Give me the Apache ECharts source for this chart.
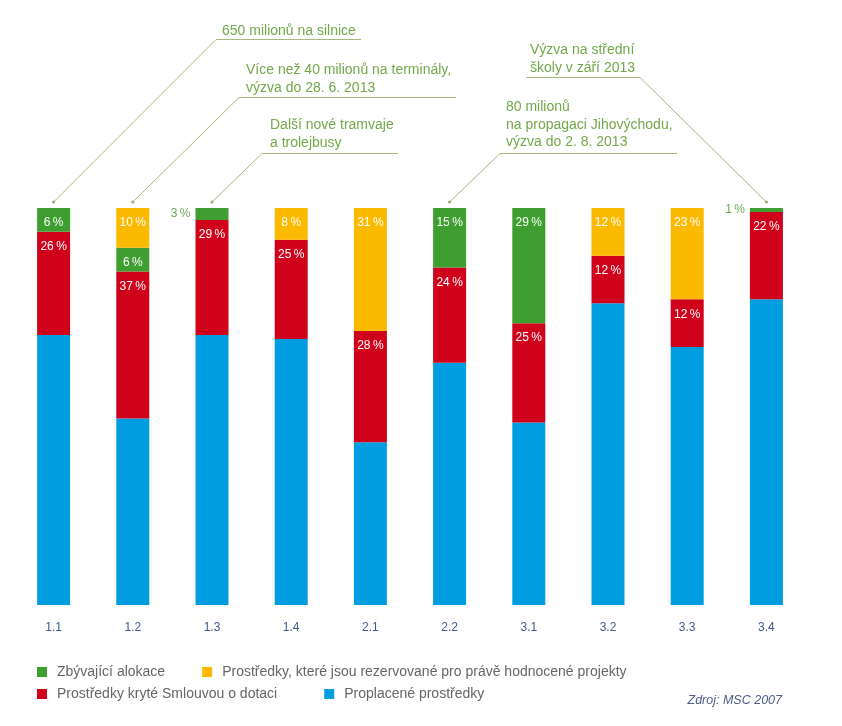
<!DOCTYPE html>
<html>
<head>
<meta charset="utf-8">
<script src="https://cdn.jsdelivr.net/npm/echarts@6/dist/echarts.min.js"></script>
<style>html,body{margin:0;padding:0;background:#fff}#c{width:842px;height:726px}</style>
</head>
<body>
<div id="c"></div>
<script>
var categories = ['1.1','1.2','1.3','1.4','2.1','2.2','3.1','3.2','3.3','3.4'];
var proplacene = [68,47,68,67,41,61,46,76,65,77];
var kryte      = [26,37,29,25,28,24,25,12,12,22];
var zbyvajici  = [6,6,3,0,0,15,29,0,0,1];
var rezervovane= [0,10,0,8,31,0,0,12,23,0];
var seriesNames = ['Proplacené prostředky','Prostředky kryté Smlouvou o dotaci','Zbývající alokace','Prostředky, které jsou rezervované pro právě hodnocené projekty'];
var colors = ['#009ee0','#d0021b','#3f9e30','#fbb900'];

var FONT = '"Liberation Sans", Arial, sans-serif';

function buildData(arr, showLabel){
  return arr.map(function(v){
    if (!v) return '-';
    if (!showLabel) return v;
    if (v < 5) {
      return {value: v, label: {show: true, position: 'left', distance: 5, color: '#6aab55'}};
    }
    return v;
  });
}

function barSeries(i, arr, showLabel){
  return {
    name: seriesNames[i], type: 'bar', stack: 'total', barWidth: 33,
    itemStyle: {color: colors[i]},
    data: buildData(arr, showLabel),
    label: {
      show: showLabel, position: 'insideTop', distance: 9,
      color: '#fff', fontSize: 12, fontFamily: FONT,
      formatter: function(p){ return p.value + '\u2009%'; }
    },
    emphasis: {disabled: true}
  };
}

var chart = echarts.init(document.getElementById('c'));
chart.setOption({
  backgroundColor: '#ffffff',
  animation: false,
  grid: {left: 14, top: 208, width: 792, height: 397},
  xAxis: {
    type: 'category', data: categories,
    axisLine: {show: false}, axisTick: {show: false},
    axisLabel: {color: '#3f5b8a', fontSize: 12, fontFamily: FONT, margin: 17}
  },
  yAxis: {type: 'value', min: 0, max: 100, show: false, splitLine: {show: false}},
  legend: [
    {
      data: [seriesNames[2], seriesNames[3]],
      left: 37, top: 665, padding: 0, itemWidth: 10, itemHeight: 10, itemGap: 37,
      icon: 'rect', selectedMode: false,
      textStyle: {color: '#666', fontSize: 14, fontFamily: FONT, padding: [0,0,0,5]}
    },
    {
      data: [seriesNames[1], seriesNames[0]],
      left: 37, top: 687, padding: 0, itemWidth: 10, itemHeight: 10, itemGap: 47,
      icon: 'rect', selectedMode: false,
      textStyle: {color: '#666', fontSize: 14, fontFamily: FONT, padding: [0,0,0,5]}
    }
  ],
  series: [
    barSeries(0, proplacene, false),
    barSeries(1, kryte, true),
    barSeries(2, zbyvajici, true),
    barSeries(3, rezervovane, true)
  ]
});

// annotations
var notes = [
  {cat: 0, text: '650 milionů na silnice', tx: 222, ty: 22, lx1: 216, lx2: 361, ly: 39.5, from: 'left'},
  {cat: 1, text: 'Více než 40 milionů na terminály,\nvýzva do 28. 6. 2013', tx: 246, ty: 61.5, lx1: 239, lx2: 456, ly: 97.5, from: 'left'},
  {cat: 2, text: 'Další nové tramvaje\na trolejbusy', tx: 270, ty: 116.5, lx1: 262, lx2: 398, ly: 153.5, from: 'left'},
  {cat: 5, text: '80 milionů\nna propagaci Jihovýchodu,\nvýzva do 2. 8. 2013', tx: 506, ty: 98.5, lx1: 500, lx2: 677, ly: 153.5, from: 'left'},
  {cat: 9, text: 'Výzva na střední\nškoly v září 2013', tx: 530, ty: 41.5, lx1: 526, lx2: 640, ly: 77.5, from: 'right'}
];
var lineColor = '#a9b87e';
var g = [];
notes.forEach(function(n){
  var p = chart.convertToPixel({gridIndex: 0}, [n.cat, 100]);
  var dx = p[0], dy = p[1] - 6;
  var ex = n.from === 'left' ? n.lx1 : n.lx2;
  g.push({type: 'line', shape: {x1: dx, y1: dy, x2: ex, y2: n.ly}, style: {stroke: lineColor, lineWidth: 1}});
  g.push({type: 'line', shape: {x1: n.lx1, y1: n.ly, x2: n.lx2, y2: n.ly}, style: {stroke: lineColor, lineWidth: 1}});
  g.push({type: 'circle', shape: {cx: dx, cy: dy, r: 1.6}, style: {fill: '#9aaa78'}});
  g.push({type: 'text', x: n.tx, y: n.ty, style: {text: n.text, fill: '#72a84a', font: '14px ' + FONT, lineHeight: 17.5, textVerticalAlign: 'top'}});
});
g.push({type: 'text', x: 782, y: 701, style: {text: 'Zdroj: MSC 2007', fill: '#4c5c85', font: 'italic 12.5px ' + FONT, textAlign: 'right', textVerticalAlign: 'middle'}});
chart.setOption({graphic: g});
</script>
</body>
</html>
